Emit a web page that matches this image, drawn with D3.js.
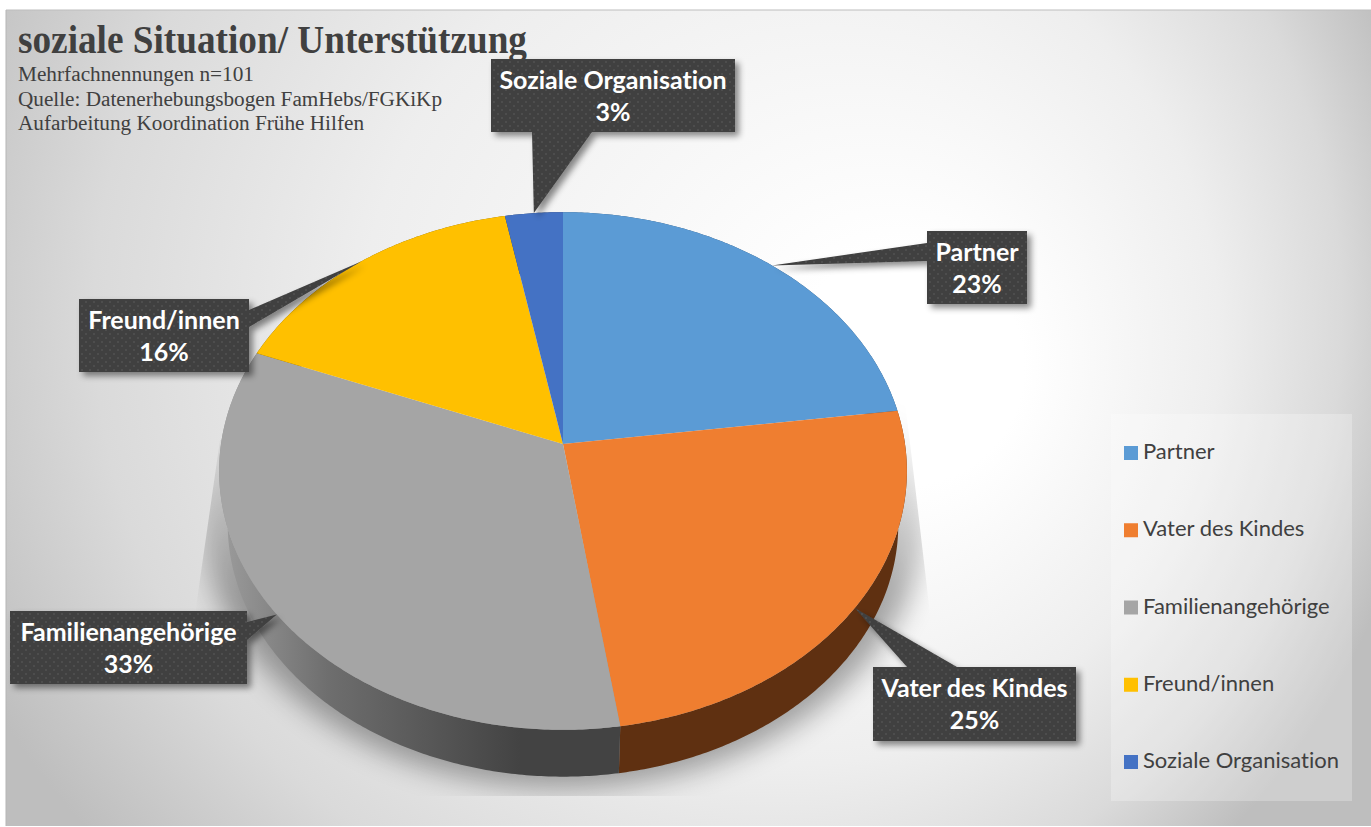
<!DOCTYPE html>
<html><head><meta charset="utf-8">
<script src="https://cdn.jsdelivr.net/npm/d3@7/dist/d3.min.js"></script>
<style>html,body{margin:0;padding:0;background:#fff}svg{display:block}text{font-variant-ligatures:none}</style>
</head><body><svg id="c" width="1371" height="827"></svg>
<script>
const titleText = "soziale Situation/ Unterstützung";
const subtitleLines = ["Mehrfachnennungen n=101","Quelle: Datenerhebungsbogen FamHebs/FGKiKp","Aufarbeitung Koordination Frühe Hilfen"];
const categories = ["Partner","Vater des Kindes","Familienangehörige","Freund/innen","Soziale Organisation"];
const values = [22.9,24.7,33.4,16,3];
const colors = ["#5b9bd5","#ef7e30","#a5a5a5","#ffc000","#4472c4"];
const wallColors = ["#2f5273","#5f3011","url(#wallGray)","#7a5c00","#24395f"];

// layout
const W=1371,H=827;
const svg=d3.select("#c");
const defs=svg.append("defs");
const cx=563, apexY=444, A=342, B=256, K=0.1043, depthScale=0.975, depthApexY=498;
const project=(theta,r=1,bottom=false)=>{
  const u=Math.sin(theta)*r, v=-Math.cos(theta)*r, w=1-K*v, s=bottom?depthScale:1;
  return [cx+s*A*u/w,(bottom?depthApexY:apexY)+s*B*v/w];
};
const boxes=[
 {x0:927,y0:231,x1:1027,y1:304,side:"left",t0:243,t1:261},
 {x0:873,y0:667,x1:1076,y1:741,side:"top",t0:907,t1:957},
 {x0:10,y0:611,x1:247,y1:684,side:"right",t0:622,t1:640},
 {x0:79,y0:299,x1:249,y1:372,side:"right",t0:310,t1:327},
 {x0:491,y0:59,x1:735,y1:132,side:"bottom",t0:532,t1:592}
];

// background
const bg=defs.append("radialGradient").attr("id","bg").attr("gradientUnits","userSpaceOnUse")
 .attr("cx",660).attr("cy",300).attr("r",780).attr("fx",950).attr("fy",380);
[[0,"#ffffff"],[0.15,"#ffffff"],[0.55,"#eeeeee"],[0.8,"#dadada"],[1,"#bebebe"]].forEach(s=>bg.append("stop").attr("offset",s[0]).attr("stop-color",s[1]));
svg.append("rect").attr("x",6).attr("y",10).attr("width",W-6).attr("height",816).attr("fill","url(#bg)");
svg.append("line").attr("x1",6).attr("x2",W).attr("y1",10).attr("y2",10).attr("stroke","#bdbdbd");
svg.append("line").attr("x1",6).attr("x2",6).attr("y1",10).attr("y2",826).attr("stroke","#b5b5b5");

// filters and patterns
const blur=defs.append("filter").attr("id","blur").attr("x","-20%").attr("y","-20%").attr("width","140%").attr("height","140%");
blur.append("feGaussianBlur").attr("stdDeviation",14);
const ds=defs.append("filter").attr("id","ds").attr("x","-20%").attr("y","-20%").attr("width","140%").attr("height","140%");
ds.append("feDropShadow").attr("dx",4).attr("dy",4).attr("stdDeviation",3).attr("flood-color","#000").attr("flood-opacity",0.45);
const pat=defs.append("pattern").attr("id","dots").attr("width",8).attr("height",8).attr("patternUnits","userSpaceOnUse");
pat.append("rect").attr("width",8).attr("height",8).attr("fill","#404040");
[[2,2],[6,6]].forEach(p=>pat.append("rect").attr("x",p[0]-.75).attr("y",p[1]-.75).attr("width",1.5).attr("height",1.5).attr("fill","#585858"));
const wg=defs.append("linearGradient").attr("id","wallGray").attr("gradientUnits","userSpaceOnUse").attr("x1",225).attr("x2",520).attr("y1",0).attr("y2",0);
[[0,"#9a9a9a"],[0.35,"#6e6e6e"],[1,"#434343"]].forEach(s=>wg.append("stop").attr("offset",s[0]).attr("stop-color",s[1]));
const sg=defs.append("linearGradient").attr("id","shFill").attr("gradientUnits","userSpaceOnUse").attr("x1",0).attr("x2",0).attr("y1",410).attr("y2",600);
sg.append("stop").attr("offset",0).attr("stop-color","#000").attr("stop-opacity",0);
sg.append("stop").attr("offset",1).attr("stop-color","#000").attr("stop-opacity",1);
defs.append("clipPath").attr("id","shClip").append("path").attr("d","M220,440L197,600L170,796L960,796L930,613L905,400Z");

// pie shadow
svg.append("g").attr("clip-path","url(#shClip)").append("g").attr("filter","url(#blur)").attr("opacity",0.34).append("ellipse")
 .attr("cx",563).attr("cy",512).attr("rx",362).attr("ry",276).attr("fill","url(#shFill)");

// pie
const pie=d3.pie().sort(null).value(d=>d);
const arcs=pie(values);
const line=d3.line();
const arcAngles=(a,b)=>{const n=Math.max(2,Math.ceil((b-a)/0.01));return d3.range(n+1).map(i=>a+(b-a)*i/n);};
svg.append("g").selectAll("path").data(arcs).join("path")
 .attr("d",d=>{const t=arcAngles(d.startAngle,d.endAngle);
   return line(t.map(a=>project(a)).concat(t.slice().reverse().map(a=>project(a,1,true))))+"Z";})
 .attr("fill",(d,i)=>wallColors[i]);
svg.append("g").selectAll("path").data(arcs).join("path")
 .attr("d",d=>line([[cx,apexY]].concat(arcAngles(d.startAngle,d.endAngle).map(a=>project(a))))+"Z")
 .attr("fill",(d,i)=>colors[i]);

// title
svg.append("text").attr("x",18).attr("y",53).attr("font-family","Liberation Serif").attr("font-weight",700).attr("font-size",40).attr("fill","#404040")
 .attr("textLength",509).attr("lengthAdjust","spacingAndGlyphs").text(titleText);
const subLen=[236,424,346], subY=[81,106,130];
svg.append("g").selectAll("text").data(subtitleLines).join("text")
 .attr("x",18).attr("y",(d,i)=>subY[i]).attr("font-family","Liberation Serif").attr("font-size",20).attr("fill","#404040")
 .attr("textLength",(d,i)=>subLen[i]).attr("lengthAdjust","spacingAndGlyphs").text(d=>d);

// callouts
const g=svg.append("g");
arcs.forEach((d,i)=>{
  const b=boxes[i], tip=project((d.startAngle+d.endAngle)/2);
  let pts;
  const tl=[b.x0,b.y0],tr=[b.x1,b.y0],br=[b.x1,b.y1],bl=[b.x0,b.y1];
  if(b.side==="left") pts=[tl,tr,br,bl,[b.x0,b.t1],tip,[b.x0,b.t0]];
  if(b.side==="right") pts=[tl,tr,[b.x1,b.t0],tip,[b.x1,b.t1],br,bl];
  if(b.side==="top") pts=[tl,[b.t0,b.y0],tip,[b.t1,b.y0],tr,br,bl];
  if(b.side==="bottom") pts=[tl,tr,br,[b.t1,b.y1],tip,[b.t0,b.y1],bl];
  g.append("path").attr("d",line(pts)+"Z").attr("fill","url(#dots)").attr("filter","url(#ds)");
  const mx=(b.x0+b.x1)/2;
  const t=g.append("text").attr("text-anchor","middle").attr("font-family","Lato").attr("font-weight",700).attr("font-size",25).attr("fill","#fff");
  t.append("tspan").attr("x",mx).attr("y",b.y0+30).text(categories[i]);
  t.append("tspan").attr("x",mx).attr("y",b.y0+62).text(Math.round(d.value/d3.sum(values)*100)+"%");
});

// legend
svg.append("rect").attr("x",1111).attr("y",414).attr("width",241).attr("height",387).attr("fill","#fff").attr("fill-opacity",0.25);
const legY=d3.scalePoint().domain(categories).range([453,762]);
const leg=svg.append("g").selectAll("g").data(categories).join("g").attr("transform",d=>`translate(0,${legY(d)})`);
leg.append("rect").attr("x",1124).attr("y",-7).attr("width",14).attr("height",14).attr("fill",(d,i)=>colors[i]);
leg.append("text").attr("x",1143).attr("y",6).attr("font-family","Lato").attr("font-size",22).attr("fill","#404040").text(d=>d);
</script></body></html>
